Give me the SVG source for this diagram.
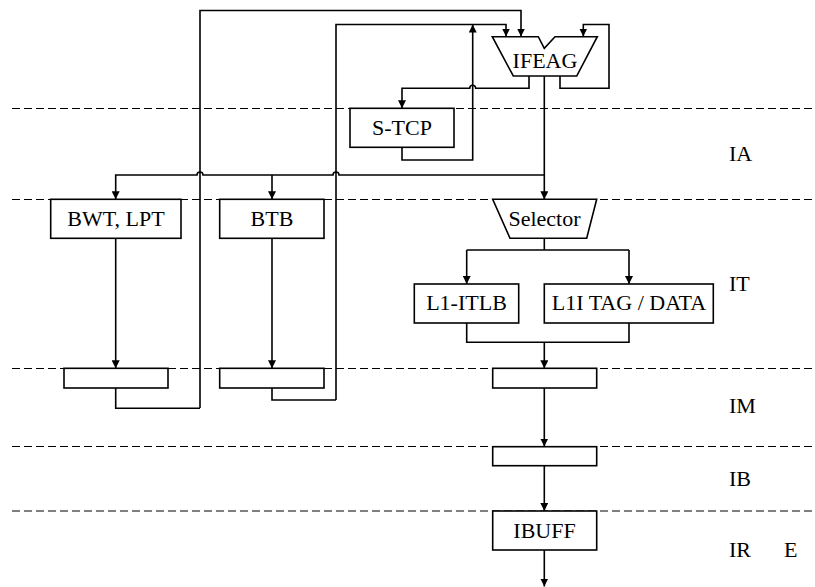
<svg xmlns="http://www.w3.org/2000/svg" width="815" height="587" viewBox="0 0 815 587">
<defs>
<marker id="arr" viewBox="0 0 10 10" refX="10" refY="5" markerWidth="8" markerHeight="8" markerUnits="userSpaceOnUse" orient="auto">
<path d="M0,0 L10,5 L0,10 z" fill="#000"/>
</marker>
</defs>
<style>
.dash{stroke:#000;stroke-width:1;stroke-dasharray:8,4;fill:none}
.box{fill:#fff;stroke:#000;stroke-width:1.6}
.ln{fill:none;stroke:#000;stroke-width:1.6}
.ar{marker-end:url(#arr)}
</style>
<rect width="815" height="587" fill="#fff"/>
<g id="stage-lines">
<line class="dash" x1="12" y1="108.5" x2="815" y2="108.5"/>
<line class="dash" x1="12" y1="199.5" x2="815" y2="199.5"/>
<line class="dash" x1="12" y1="368.5" x2="815" y2="368.5"/>
<line class="dash" x1="12" y1="446.5" x2="815" y2="446.5"/>
<line class="dash" x1="12" y1="511" x2="815" y2="511"/>
</g>
<g id="stage-labels">
<text x="729" y="161" font-family="Liberation Serif" font-size="22">IA</text>
<text x="729" y="291" font-family="Liberation Serif" font-size="22">IT</text>
<text x="729" y="413" font-family="Liberation Serif" font-size="22">IM</text>
<text x="729" y="486" font-family="Liberation Serif" font-size="22">IB</text>
<text x="729" y="557" font-family="Liberation Serif" font-size="22">IR</text>
<text x="784" y="557" font-family="Liberation Serif" font-size="22">E</text>
</g>
<g id="connectors">
<path class="ln ar" d="M200,408 V10.5 H521 V36.5"/>
<path class="ln ar" d="M336,400 V24.5 H506 V36.5"/>
<path class="ln ar" d="M402,147.5 V160 H472.7 V24.5"/>
<path class="ln ar" d="M529,76 V88.3 H475.7 A3,3 0 0 0 469.7,88.3 H402 V108.3"/>
<path class="ln ar" d="M560,76 V88.3 H609 V24.5 H583.3 V36.5"/>
<path class="ln ar" d="M544.3,76 V199.3"/>
<path class="ln ar" d="M544.3,175 H339 A3,3 0 0 0 333,175 H203 A3,3 0 0 0 197,175 H115.7 V199.3"/>
<path class="ln ar" d="M272,175 V199.3"/>
<path class="ln ar" d="M115.7,238.3 V368.3"/>
<path class="ln ar" d="M272,238.3 V368.3"/>
<path class="ln" d="M115.7,388 V408.3 H200"/>
<path class="ln" d="M272,388 V400 H336"/>
<path class="ln" d="M544.3,238.3 V250"/>
<path class="ln ar" d="M466.7,250 V284"/>
<path class="ln ar" d="M629,250 H466.7 M629,250 V284"/>
<path class="ln" d="M466.7,323 V342.3 H629 V323"/>
<path class="ln ar" d="M544.3,342.3 V368.3"/>
<path class="ln ar" d="M544.3,388 V446.5"/>
<path class="ln ar" d="M544.3,465.7 V511"/>
<path class="ln ar" d="M544.3,550 V586.5"/>
</g>
<g id="IFEAG">
<path class="box" d="M492.3,36.7 H538.3 L544.3,48.3 L555,36.7 H597.3 L576.7,76 H513.3 Z"/>
<text x="545" y="68.3" font-family="Liberation Serif" font-size="22" text-anchor="middle">IFEAG</text>
</g>
<g id="S-TCP">
<rect class="box" x="350" y="108.3" width="104" height="39"/>
<text x="402" y="135" font-family="Liberation Serif" font-size="22" text-anchor="middle">S-TCP</text>
</g>
<g id="BWT-LPT">
<rect class="box" x="50.7" y="199.3" width="130.3" height="39"/>
<text x="116" y="225.7" font-family="Liberation Serif" font-size="22" text-anchor="middle">BWT, LPT</text>
</g>
<g id="BTB">
<rect class="box" x="219.7" y="199.3" width="104.3" height="39"/>
<text x="272" y="225.7" font-family="Liberation Serif" font-size="22" text-anchor="middle">BTB</text>
</g>
<g id="Selector">
<path class="box" d="M492.7,199.3 H596.7 L586.7,238.3 H510 Z"/>
<text x="544.5" y="225.7" font-family="Liberation Serif" font-size="22" text-anchor="middle">Selector</text>
</g>
<g id="L1-ITLB">
<rect class="box" x="414.3" y="284" width="104.4" height="39"/>
<text x="466.5" y="310" font-family="Liberation Serif" font-size="22" text-anchor="middle">L1-ITLB</text>
</g>
<g id="L1I-TAG-DATA">
<rect class="box" x="544.3" y="284" width="169" height="39"/>
<text x="629" y="310" font-family="Liberation Serif" font-size="22" text-anchor="middle">L1I TAG / DATA</text>
</g>
<g id="reg-BWT">
<rect class="box" x="64" y="368.3" width="104" height="19.7"/>
</g>
<g id="reg-BTB">
<rect class="box" x="219.7" y="368.3" width="104.3" height="19.7"/>
</g>
<g id="reg-IT">
<rect class="box" x="492.7" y="368.3" width="104" height="19.7"/>
</g>
<g id="reg-IM">
<rect class="box" x="492.7" y="446.7" width="104" height="19"/>
</g>
<g id="IBUFF">
<rect class="box" x="492.7" y="511" width="104" height="39"/>
<text x="544.5" y="537.5" font-family="Liberation Serif" font-size="22" text-anchor="middle">IBUFF</text>
</g>
</svg>
